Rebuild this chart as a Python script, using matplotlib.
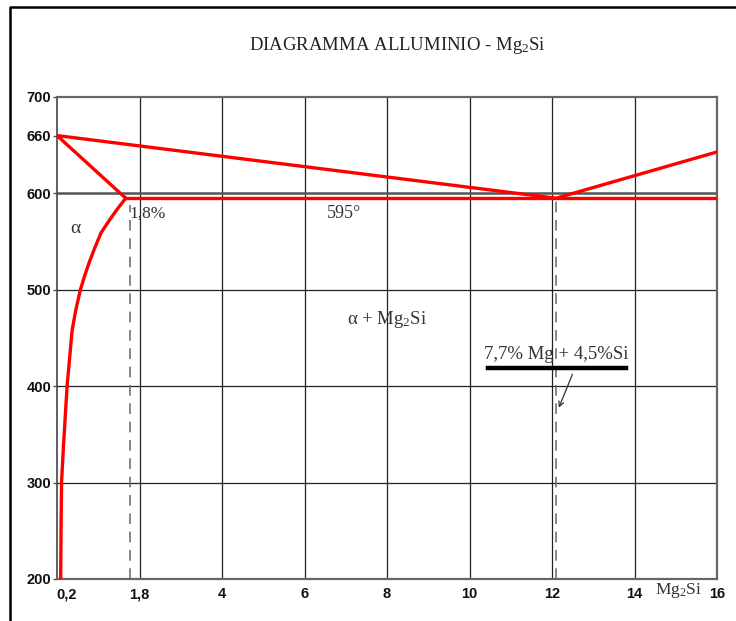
import numpy as np
import matplotlib
matplotlib.use("Agg")
import matplotlib.pyplot as plt
from matplotlib.lines import Line2D

# ---- data -------------------------------------------------------------
# composition axis (wt% Mg2Si): grid breakpoints and labelled ticks
grid_comp = [0, 1.8, 4, 6, 8, 10, 12, 14, 16]
comp_ticks = [0.2, 1.8, 4, 6, 8, 10, 12, 14, 16]
comp_labels = ["0,2", "1,8", "4", "6", "8", "10", "12", "14", "16"]
temp_ticks = [200, 300, 400, 500, 600, 660, 700]
temp_grid = [300, 400, 500, 600]

T_al = 660          # melting point of aluminium
T_eut = 595         # eutectic temperature
alpha_max = 1.5     # max solubility point on the eutectic line
alpha_mark = 1.6    # dashed reference line "1,8%"
eut_comp = 12.1     # eutectic composition
liq_end_comp, liq_end_temp = 16, 643

# solvus of the alpha solid solution
solvus_comp = [1.5, 1.32, 1.14, 0.96, 0.82, 0.70, 0.60, 0.51, 0.41, 0.33, 0.22, 0.14, 0.10, 0.09, 0.08]
solvus_temp = [595, 584, 572, 559, 543, 528, 514, 500, 479, 458, 400, 337, 301, 260, 200]

# ---- styling ----------------------------------------------------------
plt.rcParams["mathtext.fontset"] = "custom"
plt.rcParams["mathtext.rm"] = "Liberation Serif"
plt.rcParams["mathtext.it"] = "Liberation Serif:italic"
serif = ["Liberation Serif", "DejaVu Serif"]
narrow = ["Liberation Sans Narrow", "Liberation Sans", "DejaVu Sans"]
red = "#ff0000"
grid_col = "#222222"
text_col = "#333333"

W, H = 736, 621
fig = plt.figure(figsize=(W / 100, H / 100), dpi=100)
fig.patch.set_facecolor("white")

# frame around the page
fig.add_artist(Line2D([10 / W, 10 / W, 1.0], [0.0, 1 - 7 / H, 1 - 7 / H],
                      transform=fig.transFigure, color="black", lw=1.8))

fig.text(397 / W, 1 - 45 / H, r"DIAGRAMMA ALLUMINIO - Mg$\mathregular{_2}$Si",
         ha="center", va="center", family=serif, fontsize=13.5, color="#222222")

ax = fig.add_axes([57 / W, (H - 579) / H, (717 - 57) / W, (579 - 97) / H])

idx = np.arange(len(grid_comp), dtype=float)


def fwd(x):
    return np.interp(x, grid_comp, idx)


def inv(y):
    return np.interp(y, idx, grid_comp)


ax.set_xscale("function", functions=(fwd, inv))
ax.set_xlim(0, 16)
ax.set_ylim(200, 700)

# grid
for c in grid_comp[1:-1]:
    ax.axvline(c, color=grid_col, lw=0.9, zorder=1)
for t in temp_grid:
    if t == 600:
        ax.axhline(t, color="#555555", lw=1.8, zorder=1)
    else:
        ax.axhline(t, color=grid_col, lw=0.9, zorder=1)

# dashed reference verticals
ax.plot([alpha_mark, alpha_mark], [200, 588], color="#666666", lw=1.1,
        ls=(0, (7, 5)), zorder=2)
ax.plot([eut_comp, eut_comp], [200, T_eut], color="#666666", lw=1.1,
        ls=(0, (7, 5)), zorder=2)

# phase boundaries
lw = 2.4
ax.plot([0, eut_comp, liq_end_comp], [T_al, T_eut, liq_end_temp],
        color=red, lw=lw, solid_capstyle="round", zorder=3)
ax.plot([0, alpha_max], [T_al, T_eut], color=red, lw=lw,
        solid_capstyle="round", zorder=3)
ax.plot([alpha_max, 16], [T_eut, T_eut], color=red, lw=lw, zorder=3)
ax.plot(solvus_comp, solvus_temp, color=red, lw=lw, zorder=3,
        solid_joinstyle="round")

# labels inside the diagram
ax.text(0.4, 564, "α", family=serif, fontsize=14, color=text_col,
        ha="center", va="center")
ax.text(1.58, 579, "1,8%", family=serif, fontsize=12.5, color=text_col,
        ha="left", va="center")
ax.text(6.95, 579, "595°", family=serif, fontsize=13, color=text_col,
        ha="center", va="center")
ax.text(8.0, 469, r"α + Mg$\mathregular{_2}$Si", family=serif,
        fontsize=13.5, color=text_col, ha="center", va="center")
ax.text(12.1, 433, "7,7% Mg + 4,5%Si", family=serif, fontsize=13.5,
        color=text_col, ha="center", va="center")
ax.plot([10.44, 13.79], [419, 419], color="black", lw=3.2, zorder=4)
ax.annotate("", xy=(12.14, 375), xytext=(12.52, 415),
            arrowprops=dict(arrowstyle="->", color="#333333", lw=0.9,
                            mutation_scale=9))
ax.text(14.5, 198, r"Mg$\mathregular{_2}$Si", transform=ax.transData,
        family=serif, fontsize=12.5, color=text_col, ha="left", va="top")

# axes / ticks
for s in ("top", "right"):
    ax.spines[s].set_color("#666666")
    ax.spines[s].set_linewidth(1.6)
ax.spines["bottom"].set_color("#666666")
ax.spines["bottom"].set_linewidth(1.6)
ax.spines["left"].set_color("#444444")
ax.spines["left"].set_linewidth(1.2)

ax.set_xticks(comp_ticks)
ax.set_xticklabels(comp_labels)
ax.set_yticks(temp_ticks)
ax.set_yticklabels([str(t) for t in temp_ticks])
ax.xaxis.set_minor_locator(matplotlib.ticker.NullLocator())
ax.tick_params(axis="x", length=0, pad=6)
ax.tick_params(axis="y", length=3, width=1, color="#555555", pad=1)
for lab in ax.get_xticklabels() + ax.get_yticklabels():
    lab.set_family(narrow)
    lab.set_fontweight("bold")
    lab.set_fontsize(10.5)
    lab.set_color("#111111")

fig.savefig("out.png", dpi=100, facecolor="white")
